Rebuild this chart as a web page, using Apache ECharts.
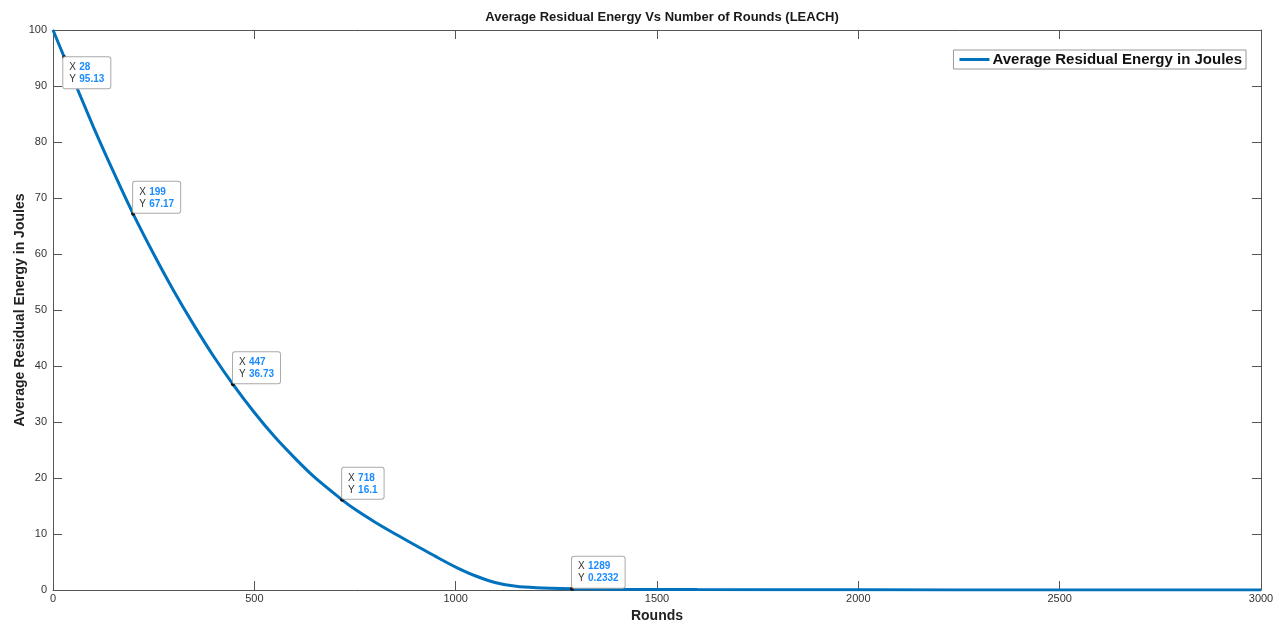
<!DOCTYPE html>
<html>
<head>
<meta charset="utf-8">
<script src="https://cdn.jsdelivr.net/npm/echarts@6/dist/echarts.min.js"></script>
<style>
  html, body { margin: 0; padding: 0; background: #fff; }
  #main { width: 1282px; height: 622px; }
</style>
</head>
<body>
<div id="main"></div>
<script>
// curve (rounds -> energy)
const rounds = [0, 28, 100, 150, 199, 250, 300, 350, 400, 447, 500, 550, 600, 650, 718,
  750, 800, 850, 900, 950, 1000, 1050, 1100, 1150, 1200, 1289, 1400, 1600, 2000, 2500, 3000]
const energy = [100, 95.13, 82.75, 74.7, 67.17, 60.0, 53.4, 47.3, 41.6, 36.73, 31.7, 27.4, 23.6, 20.1, 16.1,
  14.4, 12.1, 10.0, 8.0, 6.0, 4.1, 2.5, 1.3, 0.65, 0.4, 0.2332, 0.13, 0.07, 0.03, 0.01, 0.005]
// data tips shown on the curve
const tipX = [28, 199, 447, 718, 1289]
const tipY = ['95.13', '67.17', '36.73', '16.1', '0.2332']

const axisColor = '#555'
const labelColor = '#333'

let myChart = echarts.init(document.getElementById('main'))

let tips = tipX.map((x, i) => ({
  coord: [x, parseFloat(tipY[i])],
  value: tipY[i],
  label: {
    formatter: '{k|X} {v|' + x + '}\n{k|Y} {v|' + tipY[i] + '}',
    // first tip hangs below the point, the rest sit above it
    position: i === 0 ? [1, 2] : [2, 1],
    verticalAlign: i === 0 ? 'top' : 'bottom',
    align: 'left'
  }
}))

let sideAxis = {
  axisLine: { show: true, onZero: false, lineStyle: { color: axisColor, width: 1 } },
  axisTick: { show: true, inside: true, length: 9, lineStyle: { color: axisColor } },
  axisLabel: { show: false },
  splitLine: { show: false }
}

let option = {
  animation: false,
  title: {
    text: 'Average Residual Energy Vs Number of Rounds (LEACH)',
    left: 657,
    textAlign: 'center',
    top: 6,
    textStyle: { fontFamily: 'Liberation Sans', fontSize: 13, fontWeight: 'bold', color: '#1a1a1a' }
  },
  legend: {
    right: 36,
    top: 50,
    itemWidth: 30,
    itemHeight: 3,
    itemGap: 4,
    padding: [2, 4, 2, 6],
    borderColor: '#999',
    borderWidth: 1,
    backgroundColor: '#fff',
    icon: 'rect',
    textStyle: { fontFamily: 'Liberation Sans', fontSize: 15, fontWeight: 'bold', color: '#111', padding: [0, 0, 0, -2] },
    data: ['Average Residual Energy in Joules']
  },
  grid: { left: 53, right: 21, top: 30, bottom: 32, outerBoundsMode: 'none' },
  xAxis: [{
    type: 'value',
    min: 0,
    max: 3000,
    interval: 500,
    name: 'Rounds',
    nameLocation: 'middle',
    nameGap: 19,
    nameMoveOverlap: false,
    nameTextStyle: { fontFamily: 'Liberation Sans', fontSize: 14, fontWeight: 'bold', color: '#222', verticalAlign: 'top' },
    axisLine: { onZero: false, lineStyle: { color: axisColor, width: 1 } },
    axisTick: { inside: true, length: 9, lineStyle: { color: axisColor } },
    axisLabel: { margin: 3, color: labelColor, fontFamily: 'Liberation Sans', fontSize: 11, formatter: v => String(v) },
    splitLine: { show: false }
  }, Object.assign({
    type: 'value',
    position: 'top',
    min: 0,
    max: 3000,
    interval: 500
  }, sideAxis)],
  yAxis: [{
    type: 'value',
    min: 0,
    max: 100,
    interval: 10,
    name: 'Average Residual Energy in Joules',
    nameLocation: 'middle',
    nameGap: 26,
    nameMoveOverlap: false,
    nameTextStyle: { fontFamily: 'Liberation Sans', fontSize: 14, fontWeight: 'bold', color: '#222' },
    axisLine: { show: true, onZero: false, lineStyle: { color: axisColor, width: 1 } },
    axisTick: { show: true, inside: true, length: 9, lineStyle: { color: axisColor } },
    axisLabel: { margin: 6, color: labelColor, fontFamily: 'Liberation Sans', fontSize: 11 },
    splitLine: { show: false }
  }, Object.assign({
    type: 'value',
    position: 'right',
    min: 0,
    max: 100,
    interval: 10
  }, sideAxis)],
  series: [{
    type: 'line',
    name: 'Average Residual Energy in Joules',
    data: rounds.map((r, i) => [r, energy[i]]),
    smooth: 0.3,
    showSymbol: false,
    lineStyle: { color: '#0072BD', width: 3 },
    itemStyle: { color: '#0072BD' },
    markPoint: {
      symbol: 'circle',
      symbolSize: 4,
      itemStyle: { color: '#111' },
      label: {
        show: true,
        backgroundColor: '#fff',
        borderColor: '#aaa',
        borderWidth: 1,
        borderRadius: 2,
        padding: [4, 6, 3, 6],
        lineHeight: 12,
        rich: {
          k: { color: '#333', fontFamily: 'Liberation Sans', fontSize: 10, lineHeight: 12 },
          v: { color: '#1a8cff', fontFamily: 'Liberation Sans', fontSize: 10, fontWeight: 'bold', lineHeight: 12 }
        }
      },
      data: tips
    }
  }]
}

myChart.setOption(option, true)
window.addEventListener('resize', function () {
  myChart.resize()
})
</script>
</body>
</html>
